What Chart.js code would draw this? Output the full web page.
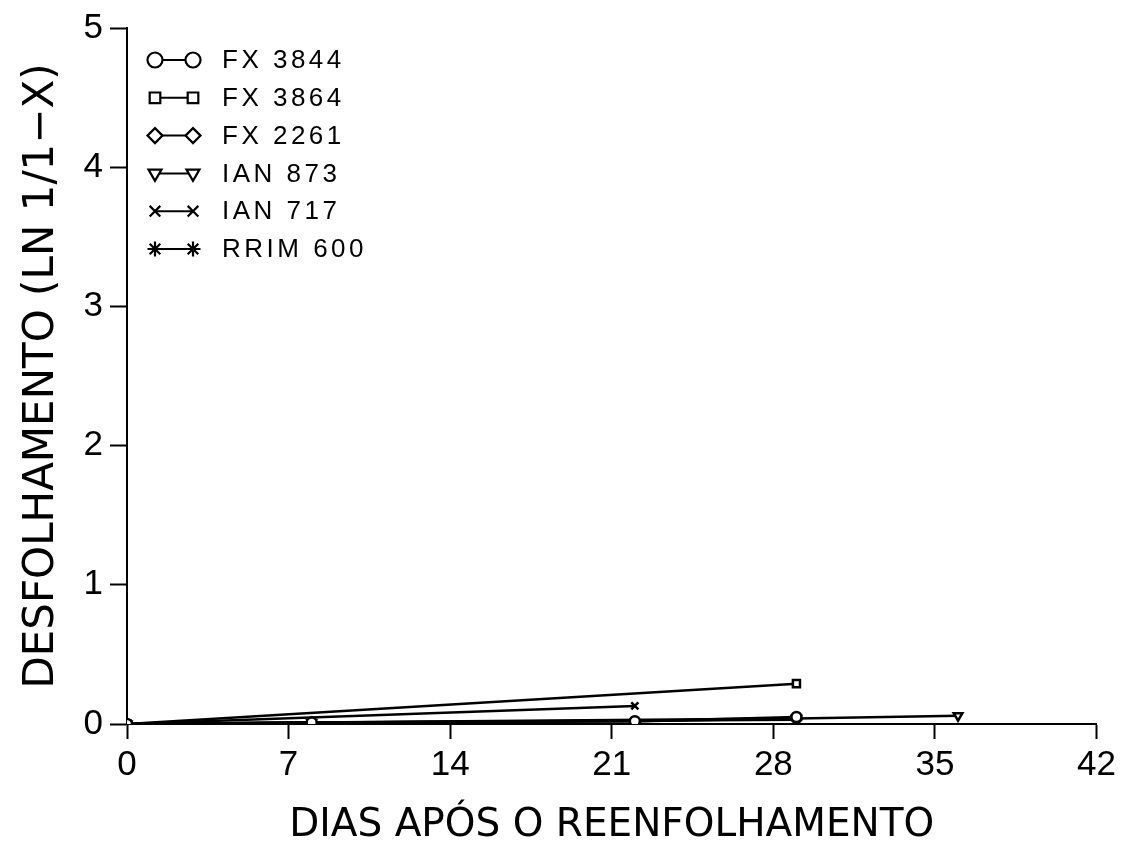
<!DOCTYPE html>
<html>
<head>
<meta charset="utf-8">
<script src="https://cdn.jsdelivr.net/npm/chart.js@4/dist/chart.umd.min.js"></script>
<style>
  html, body { margin: 0; padding: 0; background: #fff; }
  #wrap { width: 1121px; height: 846px; }
</style>
</head>
<body>
<div id="wrap"><canvas id="grafico" width="1121" height="846"></canvas></div>
<script>
// dias de avaliação (eixo x)
const dias = [0, 8, 22, 29, 36];

// valores (null = sem avaliação)
const fx3844  = [0, 0.01, 0.02, 0.05, null];
const fx3864  = [0, null, null, 0.29, null];
const fx2261  = [0, 0.01, null, 0.03, null];
const ian873   = [0, 0.01, null, 0.04, 0.06];
const ian717   = [0, null, 0.13, null, null];
const rrim600  = [0, 0.01, 0.02, 0.04, null];

const nomes = ['FX 3844', 'FX 3864', 'FX 2261', 'IAN 873', 'IAN 717', 'RRIM 600'];
const marcadores = ['circle', 'rect', 'rectRot', 'triangle', 'crossRot', 'star'];
const rotacoes = [0, 0, 0, 180, 0, 0];

const yTicks = [0, 1, 2, 3, 4, 5];
const xTicks = [0, 7, 14, 21, 28, 35, 42];

function pontos(valores) {
    const out = [];
    valores.forEach((v, i) => { if (v !== null) out.push({ x: dias[i], y: v }); });
    return out;
}

const series = [fx3844, fx3864, fx2261, ian873, ian717, rrim600];

const datasets = series.map((s, i) => ({
    label: nomes[i],
    data: pontos(s),
    showLine: true,
    borderColor: '#000',
    borderWidth: 2.5,
    backgroundColor: '#fff',
    pointStyle: marcadores[i],
    pointRotation: rotacoes[i],
    pointRadius: 5,
    pointBorderColor: '#000',
    pointBackgroundColor: i === 5 ? '#000' : '#fff',
    pointBorderWidth: 2.5,
    tension: 0
}));

// legenda desenhada dentro da área do gráfico (canto superior esquerdo)
const legendaInterna = {
    id: 'legendaInterna',
    afterDraw(chart) {
        const ctx = chart.ctx;
        ctx.save();
        chart.data.datasets.forEach((ds, i) => {
            const y = 60 + i * 37.8;
            const x1 = 155, x2 = 193;
            ctx.strokeStyle = '#000';
            ctx.lineWidth = 2;
            ctx.beginPath();
            ctx.moveTo(x1, y);
            ctx.lineTo(x2, y);
            ctx.stroke();
            [x1, x2].forEach(x => {
                ctx.fillStyle = ds.pointBackgroundColor;
                ctx.strokeStyle = '#000';
                ctx.lineWidth = 2.2;
                Chart.helpers.drawPoint(ctx, {
                    pointStyle: ds.pointStyle,
                    rotation: ds.pointRotation,
                    radius: 7.5,
                    borderWidth: 2.2
                }, x, y);
            });
            ctx.fillStyle = '#000';
            ctx.font = '26px "Liberation Sans", Arial, sans-serif';
            ctx.letterSpacing = '3.5px';
            ctx.textAlign = 'left';
            ctx.textBaseline = 'middle';
            ctx.fillText(ds.label, 222, y + 1);
        });
        ctx.restore();
    }
};

const ctxGraf = document.getElementById('grafico').getContext('2d');
const grafico = new Chart(ctxGraf, {
    type: 'scatter',
    data: { datasets: datasets },
    plugins: [legendaInterna],
    options: {
        responsive: false,
        animation: false,
        layout: { padding: { left: 0, right: 23, top: 25, bottom: 0 } },
        plugins: {
            legend: { display: false },
            tooltip: { enabled: false }
        },
        scales: {
            x: {
                type: 'linear',
                min: 0,
                max: 42,
                afterBuildTicks: (s) => { s.ticks = xTicks.map(v => ({ value: v })); },
                afterFit: (s) => { s.height = 122; },
                border: { display: true, color: '#000', width: 2 },
                grid: { drawOnChartArea: false, drawTicks: true, tickLength: 15, tickWidth: 2, tickColor: '#000' },
                ticks: {
                    color: '#000',
                    padding: 5,
                    maxRotation: 0,
                    font: { family: '"Liberation Sans", Arial, sans-serif', size: 35 }
                },
                title: {
                    display: true,
                    text: 'DIAS APÓS O REENFOLHAMENTO',
                    color: '#000',
                    font: { family: '"DejaVu Sans", sans-serif', size: 39, lineHeight: 1 },
                    padding: { top: 0, bottom: 1 }
                }
            },
            y: {
                min: 0,
                max: 5,
                afterBuildTicks: (s) => { s.ticks = yTicks.map(v => ({ value: v })); },
                afterFit: (s) => { s.width = 127; },
                border: { display: true, color: '#000', width: 2 },
                grid: { drawOnChartArea: false, drawTicks: true, tickLength: 17, tickWidth: 2, tickColor: '#000' },
                ticks: {
                    color: '#000',
                    padding: 7,
                    font: { family: '"Liberation Sans", Arial, sans-serif', size: 35 }
                },
                title: {
                    display: true,
                    text: 'DESFOLHAMENTO (LN 1/1−X)',
                    color: '#000',
                    font: { family: '"DejaVu Sans", sans-serif', size: 42, lineHeight: 1 },
                    padding: { top: 21, bottom: 0 }
                }
            }
        }
    }
});
</script>
</body>
</html>
